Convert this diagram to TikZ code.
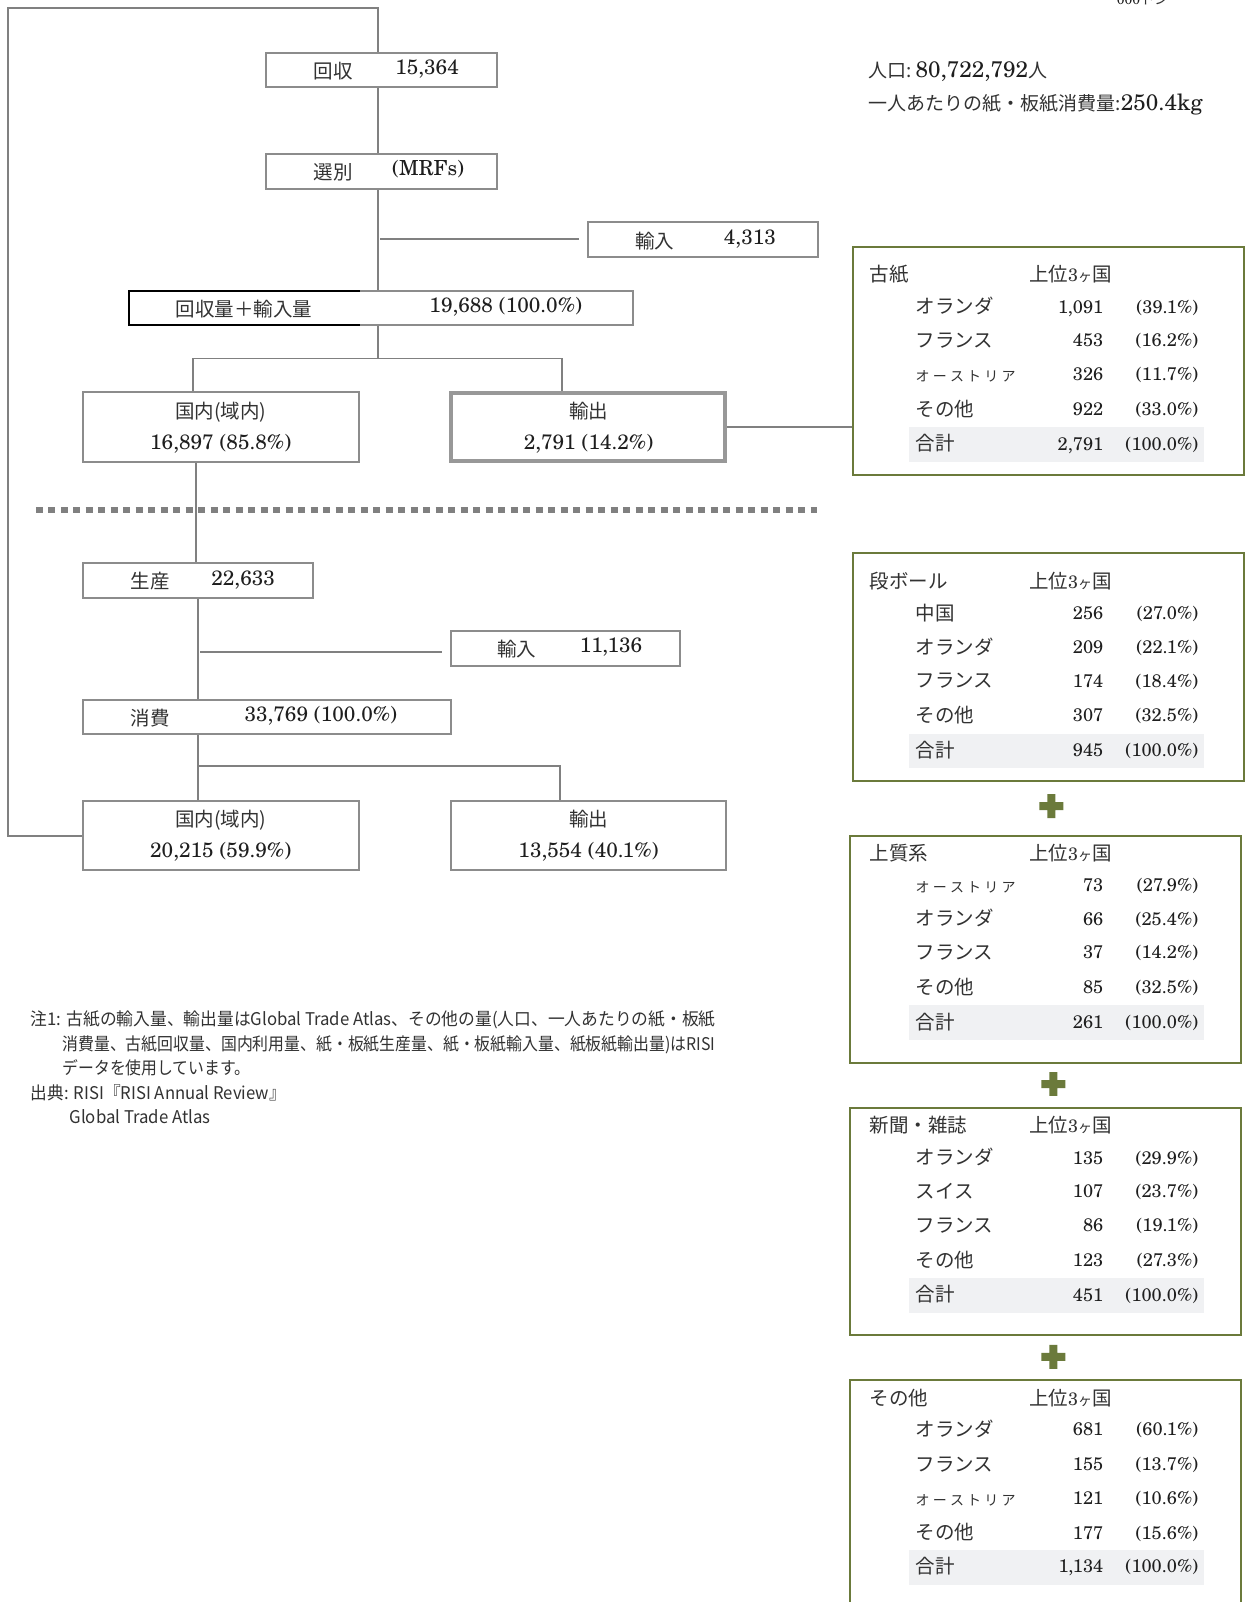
\documentclass[tikz,border=0pt]{standalone}
\usepackage{fontspec}
\usepackage{graphicx}
\usetikzlibrary{fit,calc}
\setmainfont{texgyreschola-regular.otf}
\newfontfamily\jpf{Noto Sans CJK JP}
\definecolor{txt}{RGB}{30,30,30}
\definecolor{jtxt}{RGB}{50,50,50}
\definecolor{lgray}{RGB}{128,128,128}
\definecolor{bgray}{RGB}{140,140,140}
\definecolor{egray}{RGB}{152,152,152}
\definecolor{olive}{RGB}{107,122,59}
\definecolor{totbg}{RGB}{240,241,243}
\newcommand\J[1]{{\jpf\color{jtxt}#1}}
\newcommand\fsz[1]{\fontsize{#1}{#1}\selectfont}
\newcommand\oast{{\fsz{14}オ\hspace{3.2pt}ー\hspace{3.2pt}ス\hspace{3.2pt}ト\hspace{3.2pt}リ\hspace{3.2pt}ア}}
\tikzset{
 ln/.style={draw=lgray, line width=1.6pt},
 gbox/.style={draw=bgray, line width=2pt, inner sep=0pt},
 ebox/.style={draw=egray, line width=4pt, inner sep=0pt},
 tbox/.style={draw=olive, line width=2pt, inner sep=0pt},
 jl/.style={font=\jpf\fsz{19.5}, text=jtxt, inner sep=0pt, anchor=base},
 nl/.style={font=\fsz{20.8}, text=txt, inner sep=0pt, anchor=base},
 tjp/.style={font=\jpf\fsz{19.5}, text=jtxt, inner sep=0pt},
 tnum/.style={font=\fsz{18.2}, text=txt, inner sep=0pt},
 note/.style={font=\jpf\fsz{17.5}, text=jtxt, inner sep=0pt, anchor=base west},
 dotl/.style={draw=lgray, line width=6.5pt, dash pattern=on 7pt off 5.5pt},
}
% table frame: name, left, top, right, bottom, header y, title
\newcommand\tbl[7]{%
  \node[tbox, fit={(#2,#3) (#4,#5)}] (#1) {};
  \node[tjp, anchor=base west] (#1-t) at (851,#6+7.2) {#7};
  \node[tjp, anchor=base west] (#1-h) at (1007,#6+7.2) {上位{\rmfamily\fsz{18}3}{\fsz{14}ヶ}国};
}
% table row: name, y, country, number, percent
\newcommand\trow[5]{%
  \node[tjp, anchor=base west] (#1c) at (896,#2+7.2) {#3};
  \node[tnum, anchor=base east] (#1n) at (1080,#2+6.5) {#4};
  \node[tnum, anchor=base east] (#1p) at (1173,#2+6.5) {#5};
}
\newcommand\totbg[1]{\fill[totbg] (890,#1-16) rectangle (1178,#1+18);}
\newcommand\plusmark[2]{\fill[olive] (#1-11.7,#2-3.9) rectangle (#1+11.7,#2+3.9) (#1-3.9,#2-11.7) rectangle (#1+3.9,#2+11.7);}
\begin{document}
\begin{tikzpicture}[x=1.022pt, y=-1.022pt]
\useasboundingbox[fill=white] (0,0) rectangle (1223,1568);
\begin{scope}
\clip (0,0) rectangle (1223,1568);
% unit (cut at top, as in the reference)
\node[font=\fsz{14}, text=txt, anchor=base west, inner sep=0pt] (unit) at (1093,4) {000\J{トン}};
% population
\node[font=\fsz{22.5}, text=txt, inner sep=0pt, anchor=base west] (pop) at (850,76) {\J{\fsz{19}人口:}\,80,722,792\J{\fsz{19}人}};
\node[font=\fsz{22.5}, text=txt, inner sep=0pt, anchor=base west] (pcap) at (850,108) {\J{\fsz{19}一人あたりの紙・板紙消費量:}250.4kg};

% boxes
\node[gbox, fit={(260,52) (486,85)}] (kaishu) {};
\node[gbox, fit={(260,151) (486,185)}] (senbetsu) {};
\node[gbox, fit={(576,217) (801,252)}] (imp1) {};
\node[gbox, fit={(126,285) (620,318)}] (total) {};
\draw[black, line width=2.2pt] (352,285) -- (126,285) -- (126,318) -- (352,318);
\node[gbox, fit={(81,384) (351,452)}] (dom1) {};
\node[ebox, fit={(441,385) (710,451)}] (exp1) {};
\node[gbox, fit={(81,551) (306,585)}] (prod) {};
\node[gbox, fit={(441,618) (666,652)}] (imp2) {};
\node[gbox, fit={(81,685) (441,718)}] (cons) {};
\node[gbox, fit={(81,784) (351,852)}] (dom2) {};
\node[gbox, fit={(441,784) (711,852)}] (exp2) {};

% box texts
\node[jl] (t1a) at (326,77) {回収};
\node[nl] (t1b) at (418,73) {15,364};
\node[jl] (t2a) at (326,176) {選別};
\node[nl] (t2b) at (419,172) {(MRFs)};
\node[jl] (t3a) at (641,243) {輸入};
\node[nl] (t3b) at (734,239) {4,313};
\node[jl] (t4a) at (239,310) {回収量＋輸入量};
\node[nl] (t4b) at (495,306) {19,688 (100.0\%)};
\node[jl] (t5a) at (216,410) {国内(域内)};
\node[nl] (t5b) at (216,440) {16,897 (85.8\%)};
\node[jl] (t6a) at (576,410) {輸出};
\node[nl] (t6b) at (576,440) {2,791 (14.2\%)};
\node[jl] (t7a) at (147,576) {生産};
\node[nl] (t7b) at (238,573) {22,633};
\node[jl] (t8a) at (506,643) {輸入};
\node[nl] (t8b) at (598,639) {11,136};
\node[jl] (t9a) at (147,710) {消費};
\node[nl] (t9b) at (314,706) {33,769 (100.0\%)};
\node[jl] (t10a) at (216,809) {国内(域内)};
\node[nl] (t10b) at (216,839) {20,215 (59.9\%)};
\node[jl] (t11a) at (576,809) {輸出};
\node[nl] (t11b) at (576,839) {13,554 (40.1\%)};

% tables
\tbl{kosi}{835}{242}{1218}{465}{268}{古紙}
\trow{kosi1}{300}{オランダ}{1,091}{(39.1\%)}
\trow{kosi2}{333}{フランス}{453}{(16.2\%)}
\trow{kosi3}{366}{\oast}{326}{(11.7\%)}
\trow{kosi4}{400}{その他}{922}{(33.0\%)}
\totbg{434}
\trow{kosi5}{434}{合計}{2,791}{(100.0\%)}

\tbl{danb}{835}{541}{1218}{764}{569}{段ボール}
\trow{danb1}{600}{中国}{256}{(27.0\%)}
\trow{danb2}{633}{オランダ}{209}{(22.1\%)}
\trow{danb3}{666}{フランス}{174}{(18.4\%)}
\trow{danb4}{700}{その他}{307}{(32.5\%)}
\totbg{734}
\trow{danb5}{734}{合計}{945}{(100.0\%)}

\plusmark{1029}{789}

\tbl{josh}{832}{818}{1215}{1040}{835}{上質系}
\trow{josh1}{866}{\oast}{73}{(27.9\%)}
\trow{josh2}{899}{オランダ}{66}{(25.4\%)}
\trow{josh3}{932}{フランス}{37}{(14.2\%)}
\trow{josh4}{966}{その他}{85}{(32.5\%)}
\totbg{1000}
\trow{josh5}{1000}{合計}{261}{(100.0\%)}

\plusmark{1031}{1061}

\tbl{shin}{832}{1084}{1215}{1307}{1101}{新聞・雑誌}
\trow{shin1}{1133}{オランダ}{135}{(29.9\%)}
\trow{shin2}{1166}{スイス}{107}{(23.7\%)}
\trow{shin3}{1199}{フランス}{86}{(19.1\%)}
\trow{shin4}{1233}{その他}{123}{(27.3\%)}
\totbg{1267}
\trow{shin5}{1267}{合計}{451}{(100.0\%)}

\plusmark{1031}{1328}

\tbl{sono}{832}{1351}{1215}{1600}{1368}{その他}
\trow{sono1}{1399}{オランダ}{681}{(60.1\%)}
\trow{sono2}{1433}{フランス}{155}{(13.7\%)}
\trow{sono3}{1466}{\oast}{121}{(10.6\%)}
\trow{sono4}{1500}{その他}{177}{(15.6\%)}
\totbg{1533}
\trow{sono5}{1533}{合計}{1,134}{(100.0\%)}

% connectors
\coordinate (sp) at (370,0);
\coordinate (c189) at (189,0);
\coordinate (c550) at (550,0);
\coordinate (c192) at (192,0);
\coordinate (c194) at (194,0);
\coordinate (c548) at (548,0);
\coordinate (fl) at (8,8);
\coordinate (j1) at (370,351);
\coordinate (j2) at (194,750);
\coordinate (b1) at (372,234);
\coordinate (b2) at (196,638);
\draw[ln] (dom2.west) -| (fl) -| (kaishu.north -| sp);
\draw[ln] (kaishu.south -| sp) -- (senbetsu.north -| sp);
\draw[ln] (senbetsu.south -| sp) -- (total.north -| sp);
\draw[ln, shorten >=9pt] (b1) -- (imp1.west |- b1);
\draw[ln] (total.south -| sp) -- (j1);
\draw[ln] (dom1.north -| c189) |- (j1) -| (exp1.north -| c550);
\draw[ln] (exp1.east) -- (exp1.east -| kosi.west);
\draw[ln] (dom1.south -| c192) -- (prod.north -| c192);
\draw[ln] (prod.south -| c194) -- (cons.north -| c194);
\draw[ln, shorten >=8pt] (b2) -- (imp2.west |- b2);
\draw[ln] (cons.south -| c194) -- (dom2.north -| c194);
\draw[ln] (j2) -| (exp2.north -| c548);
\coordinate (d1) at (35,499);
\coordinate (d2) at (800,499);
\draw[dotl] (d1) -- (d2);

% notes
\node[note] (n1) at (30,1004) {\resizebox{685pt}{\height}{注1: 古紙の輸入量、輸出量はGlobal Trade Atlas、その他の量(人口、一人あたりの紙・板紙}};
\node[note] (n2) at (61,1028) {\resizebox{653pt}{\height}{消費量、古紙回収量、国内利用量、紙・板紙生産量、紙・板紙輸入量、紙板紙輸出量)はRISI}};
\node[note] (n3) at (61,1052) {\resizebox{188pt}{\height}{データを使用しています。}};
\node[note] (n4) at (30,1076) {\resizebox{255pt}{\height}{出典: RISI『RISI Annual Review』}};
\node[note] (n5) at (68,1100) {\resizebox{141pt}{\height}{Global Trade Atlas}};
\end{scope}
\end{tikzpicture}
\end{document}
